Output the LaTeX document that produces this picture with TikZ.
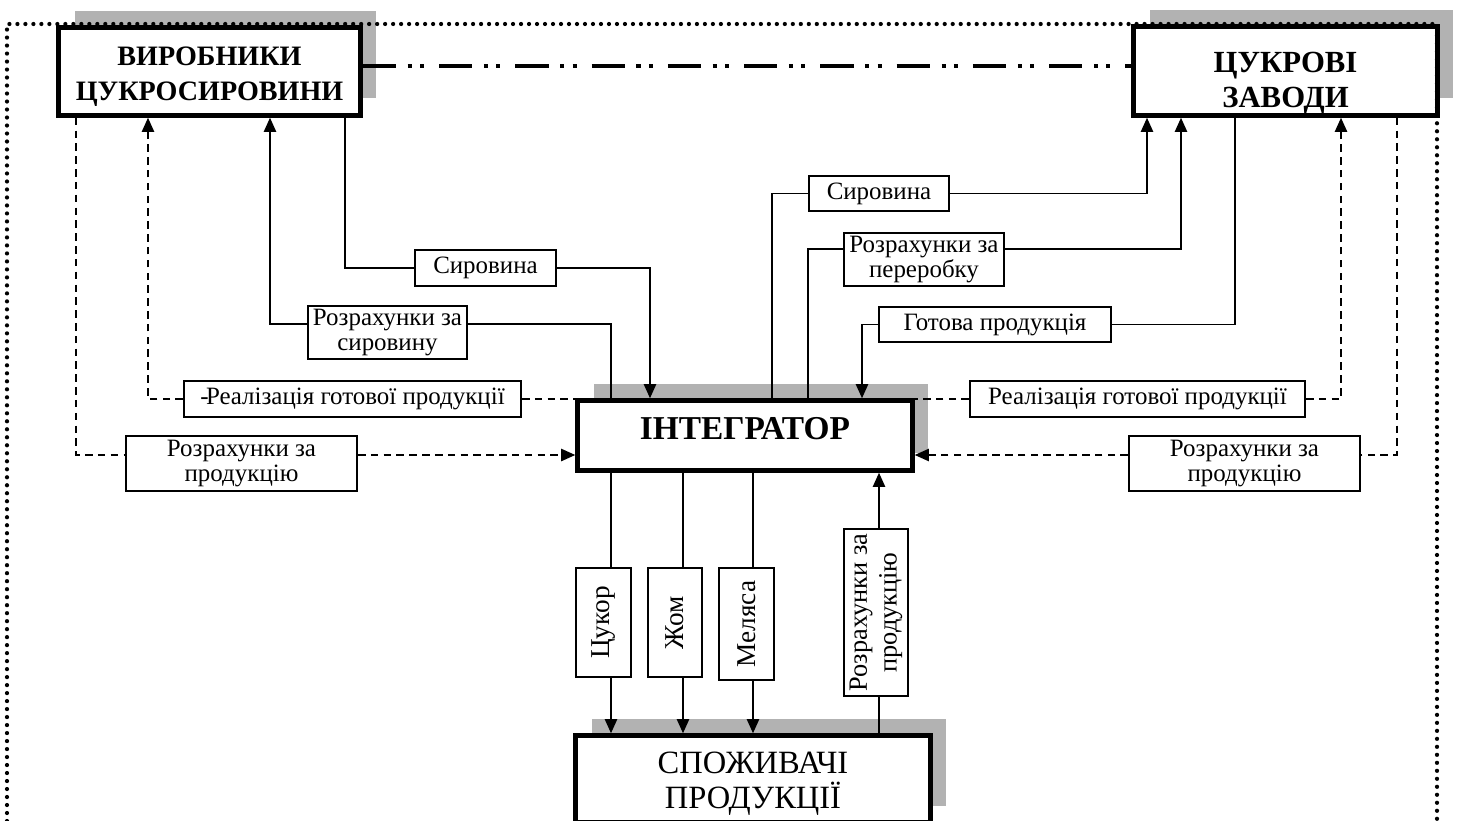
\documentclass[tikz,border=0pt]{standalone}
\usepackage{fontspec}
\setmainfont{Liberation Serif}
\usetikzlibrary{arrows.meta,shadows}

\begin{document}
\begin{tikzpicture}[x=0.02cm, y=-0.02cm, >={Triangle[length=8pt,width=7pt]},
  bigbox/.style={draw, line width=2.6pt, fill=white, inner sep=0pt, align=center,
    drop shadow={shadow xshift=0.32cm, shadow yshift=0.34cm, fill=black!30, opacity=1}},
  lbl/.style={draw, line width=0.9pt, fill=white, inner sep=0pt, align=center, font=\fontsize{14.2}{14}\selectfont},
  flow/.style={line width=0.8pt},
  money/.style={line width=0.8pt, dash pattern=on 4.3pt off 3pt}]
\useasboundingbox (0,0) rectangle (1461,821);

\node[bigbox, minimum width=6.04cm, minimum height=1.76cm, text height=33pt, text depth=0pt, font=\fontsize{16}{20}\bfseries\selectfont] (prod) at (209.5,71.5) {ВИРОБНИКИ\\ЦУКРОСИРОВИНИ};
\node[bigbox, minimum width=6.08cm, minimum height=1.78cm, text height=41pt, text depth=0pt, font=\fontsize{17.5}{19.5}\bfseries\selectfont] (zavod) at (1285.5,71) {ЦУКРОВІ\\ЗАВОДИ};
\node[bigbox, minimum width=6.7cm, minimum height=1.4cm, text height=12pt, text depth=7pt, font=\fontsize{19}{20}\bfseries\selectfont] (integr) at (745,435.5) {ІНТЕГРАТОР};
\node[bigbox, minimum width=7.1cm, minimum height=1.74cm, text height=34pt, text depth=0pt, font=\fontsize{18.5}{20}\selectfont] (spozh) at (753,779) {СПОЖИВАЧІ\\ПРОДУКЦІЇ};

\node[lbl, minimum width=2.83cm, minimum height=0.73cm] (syr1) at (485.5,268) {Сировина};
\node[lbl, minimum width=3.19cm, minimum height=1.07cm] (rsyr) at (387.5,332.5) {Розрахунки за\\сировину};
\node[lbl, minimum width=2.81cm, minimum height=0.71cm] (syr2) at (879,193.5) {Сировина};
\node[lbl, minimum width=3.21cm, minimum height=1.07cm] (rper) at (924,259.5) {Розрахунки за\\переробку};
\node[lbl, minimum width=4.65cm, minimum height=0.71cm] (gotova) at (995,324.5) {Готова продукція};
\node[lbl, minimum width=6.75cm, minimum height=0.73cm] (real1) at (352.5,399) {-\kern-1.5pt Реалізація готової продукції};
\node[lbl, minimum width=6.71cm, minimum height=0.73cm] (real2) at (1137.5,399) {Реалізація готової продукції};
\node[lbl, minimum width=4.63cm, minimum height=1.11cm] (rprod1) at (241.5,463.5) {Розрахунки за\\продукцію};
\node[lbl, minimum width=4.63cm, minimum height=1.11cm] (rprod2) at (1244.5,463.5) {Розрахунки за\\продукцію};
\node[lbl, rotate=90, minimum width=2.19cm, minimum height=1.11cm, font=\fontsize{15.5}{14}\selectfont] (tsukor) at (603.5,622.5) {Цукор};
\node[lbl, rotate=90, minimum width=2.19cm, minimum height=1.09cm, font=\fontsize{15.5}{14}\selectfont] (zhom) at (675,622.5) {Жом};
\node[lbl, rotate=90, minimum width=2.25cm, minimum height=1.11cm, font=\fontsize{15.5}{14}\selectfont] (melyasa) at (746.5,624) {Меляса};
\node[lbl, rotate=90, minimum width=3.35cm, minimum height=1.29cm, font=\fontsize{15}{17}\selectfont] (rprod3) at (876,612.5) {Розрахунки за\\продукцію};

% producers <-> integrator
\draw[flow] (prod.south -| 345,0) |- (syr1.west);
\draw[flow,->] (syr1.east) -| (integr.north -| 650,0);
\draw[flow] (integr.north -| 611,0) |- (rsyr.east |- 0,324);
\draw[flow,->] (rsyr.west |- 0,324) -| (prod.south -| 270,0);
\draw[money] (real1.east) -- (real1.east -| integr.west);
\draw[money,->] (real1.west) -| (prod.south -| 148,0);
\draw[money] (prod.south -| 76,0) |- (rprod1.west |- 0,455);
\draw[money,->] (rprod1.east |- 0,455) -- (integr.west |- 0,455);

% plants <-> integrator
\draw[flow] (integr.north -| 772,0) |- (syr2.west);
\draw[flow,->] (syr2.east) -| (zavod.south -| 1147,0);
\draw[flow] (integr.north -| 808,0) |- (rper.west |- 0,249);
\draw[flow,->] (rper.east |- 0,249) -| (zavod.south -| 1181,0);
\draw[flow] (zavod.south -| 1235,0) |- (gotova.east);
\draw[flow,->] (gotova.west) -| (integr.north -| 862,0);
\draw[money] (real2.west) -- (real2.west -| integr.east);
\draw[money,->] (real2.east) -| (zavod.south -| 1341,0);
\draw[money] (zavod.south -| 1397,0) |- (rprod2.east |- 0,455);
\draw[money,->] (rprod2.west |- 0,455) -- (integr.east |- 0,455);

% consumers
\draw[flow] (integr.south -| 611,0) -- (tsukor.east -| 611,0);
\draw[flow,->] (tsukor.west -| 611,0) -- (spozh.north -| 611,0);
\draw[flow] (integr.south -| 683,0) -- (zhom.east -| 683,0);
\draw[flow,->] (zhom.west -| 683,0) -- (spozh.north -| 683,0);
\draw[flow] (integr.south -| 753,0) -- (melyasa.east -| 753,0);
\draw[flow,->] (melyasa.west -| 753,0) -- (spozh.north -| 753,0);
\draw[flow] (spozh.north -| 879,0) -- (rprod3.west -| 879,0);
\draw[flow,->] (rprod3.east -| 879,0) -- (integr.south -| 879,0);

\draw[line width=2pt, dash pattern=on 19pt off 6.6pt on 2.3pt off 4.7pt on 2.3pt off 8.5pt] (prod.east |- 0,66) -- (zavod.west |- 0,66);
\draw[line width=2.4pt, line cap=round, dash pattern=on 0pt off 4.55pt] (7,821) -- (7,24) -- (1437,24) -- (1437,821);

\end{tikzpicture}
\end{document}
